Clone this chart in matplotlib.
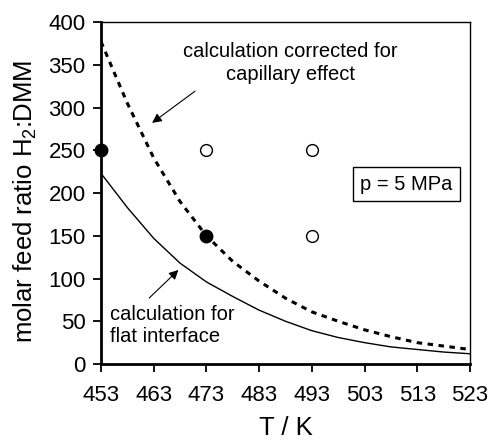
import numpy as np
import matplotlib
matplotlib.use("Agg")
import matplotlib.pyplot as plt

plt.rcParams['font.family'] = ['Liberation Sans', 'DejaVu Sans']
plt.rcParams['mathtext.default'] = 'regular'

# curves
T_curve = [453, 458, 463, 468, 473, 478, 483, 488, 493, 498, 503, 508, 513, 518, 523]
ratio_corrected = [377, 305, 241, 190, 150, 120, 97, 77, 61, 50, 40, 32, 25, 21, 17]
ratio_flat = [223, 183, 147, 118, 96, 79, 63, 50, 39, 31, 25, 20, 17, 14, 12]

# experiments
T_filled = [453, 473]
ratio_filled = [250, 150]
T_open = [473, 493, 493]
ratio_open = [250, 250, 150]

fig = plt.figure(figsize=(4.89, 4.40), dpi=100)
ax = fig.add_axes([0.2065, 0.1727, 0.7545, 0.7773])

ax.plot(T_curve, ratio_flat, color='k', lw=1.0)
ax.plot(T_curve, ratio_corrected, color='k', lw=2.2, linestyle=(0, (1.8, 1.8)))
ax.plot(T_filled, ratio_filled, 'o', color='k', ms=9, clip_on=False, zorder=5)
ax.plot(T_open, ratio_open, 'o', mfc='white', mec='k', mew=1.0, ms=8.5, zorder=5)

ax.annotate("calculation corrected for\ncapillary effect", xy=(462.7, 282), xytext=(488.9, 352),
            ha='center', va='center', fontsize=14.5, linespacing=1.3,
            arrowprops=dict(arrowstyle='-|>', color='k', lw=0.8, mutation_scale=14,
                            shrinkA=5, shrinkB=0, relpos=(0.1, 0.0)))
ax.annotate("calculation for\nflat interface", xy=(467.7, 110), xytext=(454.7, 45.5),
            ha='left', va='center', fontsize=14.5, linespacing=1.2,
            arrowprops=dict(arrowstyle='-|>', color='k', lw=0.8, mutation_scale=14,
                            shrinkA=4, shrinkB=0, relpos=(0.26, 1.0)))
ax.text(511.0, 210.5, "p = 5 MPa", ha='center', va='center', fontsize=14.5,
        bbox=dict(boxstyle='square,pad=0.35', fc='white', ec='k', lw=1.0))

ax.set_xlim(453, 523)
ax.set_ylim(0, 400)
ax.set_xticks(np.arange(453, 524, 10))
ax.set_yticks(np.arange(0, 401, 50))
ax.tick_params(direction='out', length=6, width=1.3, labelsize=16, pad=5)
ax.tick_params(axis='x', pad=9)
for s in ['left', 'bottom']:
    ax.spines[s].set_linewidth(2.0)
for s in ['top', 'right']:
    ax.spines[s].set_linewidth(1.0)

ax.set_xlabel("T / K", fontsize=18.5, labelpad=7)
ax.set_ylabel("molar feed ratio H$_2$:DMM", fontsize=18.5, labelpad=7, y=0.474)

fig.savefig("out.png", dpi=100)
